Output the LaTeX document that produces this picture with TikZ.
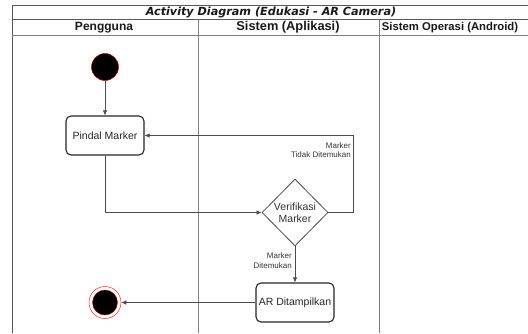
\documentclass[tikz,border=0pt]{standalone}
\usepackage{fontspec}
\setmainfont{Liberation Sans}
\newfontfamily\titlefont{DejaVu Sans}
\usetikzlibrary{arrows.meta,shapes.geometric}
\begin{document}
\begin{tikzpicture}[x=1pt,y=-1pt,
  frameline/.style={draw=black!65,line width=0.8pt},
  laneline/.style={draw=black!50,line width=0.6pt},
  actbox/.style={draw=black!85,line width=1.1pt,rounded corners=5pt,fill=white,minimum width=78pt,minimum height=39pt,inner sep=0pt,font=\fontsize{10.5}{12}\selectfont,text=black!85},
  decbox/.style={draw=black!70,line width=0.8pt,diamond,fill=white,minimum width=66pt,minimum height=67pt,inner sep=0pt,align=center,font=\fontsize{10.5}{12.5}\selectfont,text=black!80},
  flow/.style={draw=black!70,line width=0.7pt,-{Latex[length=5pt,width=4.5pt]}},
  small/.style={font=\fontsize{8}{9.5}\selectfont,text=black!80,align=right,inner sep=0pt},
  hdr/.style={font=\bfseries,inner sep=0pt,text=black!90}
]
\useasboundingbox (0,0) rectangle (528,333);
% frame
\draw[frameline] (12,333) -- (12,5) -- (540,5);
\draw[frameline] (12,19) -- (540,19);
\draw[laneline] (12,35) -- (540,35);
\draw[laneline] (198,19) -- (198,333);
\draw[laneline] (379,19) -- (379,333);
% headings
\node[hdr] (title) at (271,12) {\titlefont\fontsize{11.2}{12}\selectfont\bfseries\itshape Activity Diagram (Edukasi - AR Camera)};
\node[hdr] (h1) at (104,27.5) {\fontsize{12}{13}\selectfont Pengguna};
\node[hdr] (h2) at (288,27.5) {\fontsize{12.8}{15}\selectfont Sistem (Aplikasi)};
\node[hdr] (h3) at (450,27.5) {\fontsize{11.3}{13}\selectfont Sistem Operasi (Android)};
% nodes
\node[circle,fill=black,draw=red!80!black,line width=0.5pt,minimum size=27pt,inner sep=0pt] (start) at (105,67) {};
\node[actbox] (pindal) at (105,135.5) {Pindal Marker};
\node[decbox] (verif) at (295,212.5) {Verifikasi\\Marker};
\node[actbox] (ar) at (295,302.5) {AR Ditampilkan};
\node[circle,draw=red!85,line width=0.5pt,fill=white,minimum size=32pt,inner sep=0pt] (end) at (105,302.5) {};
\node[circle,fill=black,draw=red!70!black,line width=0.4pt,minimum size=25pt,inner sep=0pt] (endin) at (105,302.5) {};
\coordinate (c1) at (105,212.5);
\coordinate (c2) at (353,212.5);
\coordinate (c3) at (353,135.5);
% connectors
\draw[flow] (start) -- (pindal);
\draw[flow] (pindal.south) -- (c1) -- (verif.west);
\draw[flow] (verif.east) -- (c2) -- (c3) -- (pindal.east);
\draw[flow] (verif.south) -- (ar.north);
\draw[flow] (ar.west) -- (end.east);
% labels
\node[small,anchor=east] (lbl1) at (351,150) {Marker\\Tidak Ditemukan};
\node[small,anchor=east] (lbl2) at (292,260.5) {Marker\\Ditemukan};
\end{tikzpicture}
\end{document}
